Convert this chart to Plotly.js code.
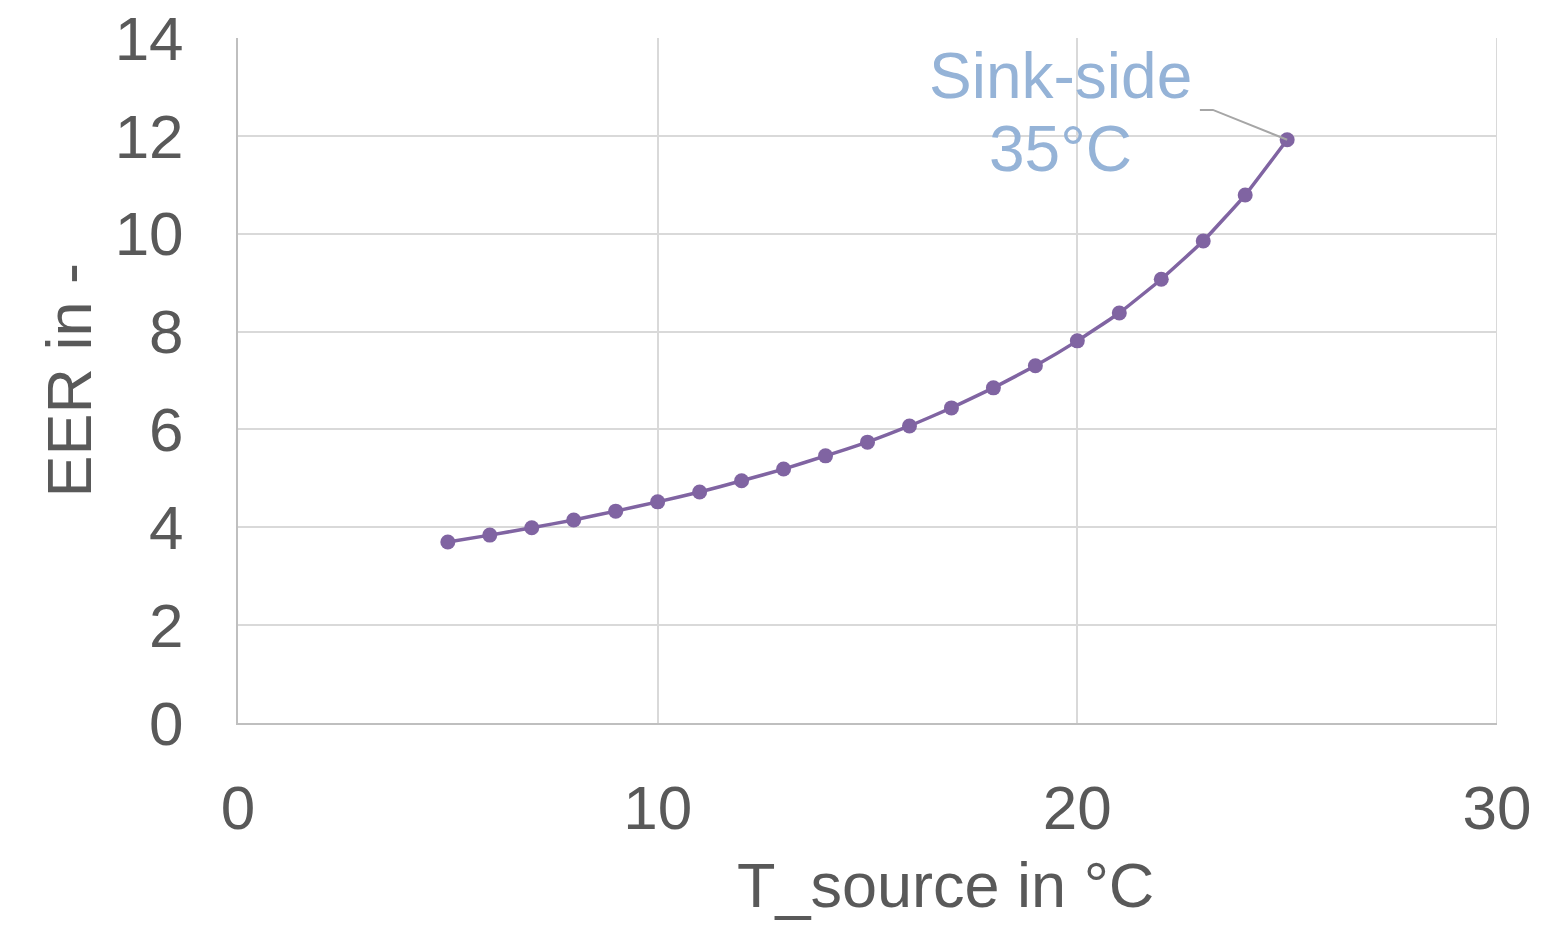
<!DOCTYPE html>
<html>
<head>
<meta charset="utf-8">
<script src="https://cdn.plot.ly/plotly-3.0.1.min.js"></script>
<style>html,body{margin:0;padding:0;background:#fff;}#chart{width:1563px;height:925px;}</style>
</head>
<body>
<div id="chart"></div>
<script>
const tSource = [5,6,7,8,9,10,11,12,13,14,15,16,17,18,19,20,21,22,23,24,25];
const eer = [3.70,3.84,3.99,4.15,4.33,4.52,4.72,4.95,5.19,5.46,5.74,6.07,6.44,6.85,7.30,7.81,8.38,9.07,9.85,10.79,11.92];
const xTicks = [0,10,20,30];
const yTicks = [0,2,4,6,8,10,12,14];
const labelLines = ["Sink-side", "35°C"];
const xTitle = "T_source in °C";
const yTitle = "EER in -";

const font = "Liberation Sans, Arial, sans-serif";
const txt = "#595959";
const lastX = tSource[tSource.length-1], lastY = eer[eer.length-1];

const trace = {
  x: tSource, y: eer, mode: "lines+markers", type: "scatter",
  line: {color: "#8064A2", width: 3.5, shape: "spline", smoothing: 0.3},
  marker: {color: "#8064A2", size: 15},
  hoverinfo: "skip"
};

const layout = {
  width: 1563, height: 925,
  margin: {l: 238, r: 66, t: 38, b: 202},
  paper_bgcolor: "#fff", plot_bgcolor: "#fff",
  showlegend: false,
  font: {family: font, color: txt, size: 62},
  xaxis: {
    range: [0, 30], tickvals: xTicks, ticktext: xTicks.map(String),
    showgrid: true, gridcolor: "#d9d9d9", gridwidth: 2,
    showline: true, linecolor: "#bfbfbf", linewidth: 2,
    zeroline: false, ticks: "", ticklabelstandoff: 30,
    tickfont: {family: font, size: 62, color: txt}
  },
  yaxis: {
    range: [0, 14], tickvals: yTicks, ticktext: yTicks.map(String),
    showgrid: true, gridcolor: "#d9d9d9", gridwidth: 2,
    showline: true, linecolor: "#bfbfbf", linewidth: 2,
    zeroline: false, ticks: "", ticklabelstandoff: 40,
    tickfont: {family: font, size: 62, color: txt}
  },
  shapes: [
    {type: "line", xref: "x", yref: "y", x0: 30, x1: 30, y0: 0, y1: 14, line: {color: "#d9d9d9", width: 2}},
    {type: "path", xref: "x", yref: "y",
     path: `M 22.92 12.53 L 23.23 12.53 L ${lastX} ${lastY}`,
     line: {color: "#a6a6a6", width: 2}}
  ],
  annotations: [
    {text: labelLines[0], xref: "x", yref: "y", x: 19.6, y: 13.22, xanchor: "center", yanchor: "middle",
     showarrow: false, font: {family: font, size: 64, color: "#95B3D7"}},
    {text: labelLines[1], xref: "x", yref: "y", x: 19.6, y: 11.74, xanchor: "center", yanchor: "middle",
     showarrow: false, font: {family: font, size: 64, color: "#95B3D7"}},
    {text: xTitle, xref: "paper", yref: "paper", x: (945-238)/(1497-238), y: -(885-723)/(723-38),
     xanchor: "center", yanchor: "middle", showarrow: false, font: {family: font, size: 63, color: txt}},
    {text: yTitle, xref: "paper", yref: "paper", x: -(238-68)/(1497-238), y: 0.5, textangle: -90,
     xanchor: "center", yanchor: "middle", showarrow: false, font: {family: font, size: 63, color: txt}}
  ]
};

Plotly.newPlot("chart", [trace], layout, {displayModeBar: false, staticPlot: true});
</script>
</body>
</html>
